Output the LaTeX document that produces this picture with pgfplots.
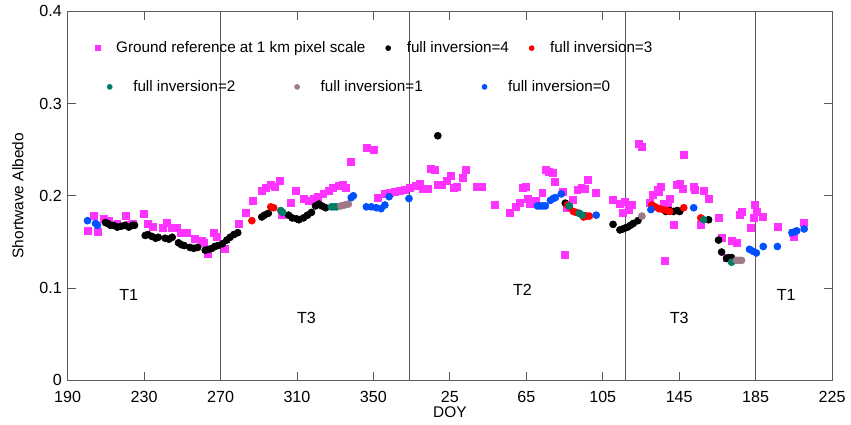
\documentclass[border=0pt]{standalone}
\usepackage{fontspec}
\setmainfont{Liberation Sans}
\usepackage{pgfplots}
\pgfplotsset{compat=1.18}

\definecolor{gmag}{RGB}{255,51,255}
\definecolor{inv3}{RGB}{255,0,0}
\definecolor{inv2}{RGB}{0,125,100}
\definecolor{inv1}{RGB}{160,120,136}
\definecolor{inv0}{RGB}{0,80,255}
\definecolor{frame}{RGB}{90,90,90}

% DOY of the second year is shifted by 365 (25 -> 390 ...)
\pgfplotsset{
  base/.style={
    width=461pt, height=222.6pt, scale only axis,
    xmin=190, xmax=590, ymin=0, ymax=0.4,
    legend image code/.code={
      \path (0pt,0pt) (12pt,0pt);
      \draw[##1] plot coordinates {(5pt,0pt)};
    },
    legend image post style={mark size=1.5pt},
  },
  dot/.style={only marks, mark=*, mark size=2.1pt, mark options={draw=#1, fill=#1}},
  sq/.style={only marks, mark=square*, mark size=2.1pt, mark options={draw=#1, fill=#1}},
}

\begin{document}
\begin{tikzpicture}
\begin{axis}[
  base, name=main,
  xtick={190,230,270,310,350,390,430,470,510,550,590},
  xticklabels={190,230,270,310,350,25,65,105,145,185,225},
  ytick={0,0.1,0.2,0.3,0.4},
  yticklabel style={/pgf/number format/fixed},
  xticklabel style={yshift=-3pt},
  /pgf/number format/assume math mode=true,
  tick align=inside, major tick length=5pt,
  tick style={frame, line width=0.5pt},
  axis line style={frame, line width=0.6pt},
  ticklabel style={font=\fontsize{9.7}{11}\selectfont},
  xlabel={DOY}, ylabel={Shortwave Albedo},
  label style={font=\fontsize{9.3}{11}\selectfont},
  xlabel style={at={(axis description cs:0.5,-0.086)}, anchor=center},
  ylabel style={at={(axis description cs:-0.065,0.5)}, anchor=center},
  legend columns=3,
  legend style={draw=none, fill=none, at={(axis description cs:0.021,0.9)}, anchor=west,
    font=\fontsize{9.2}{11}\selectfont,
    /tikz/every odd column/.append style={column sep=2pt},
    /tikz/every even column/.append style={column sep=6.5pt}},
]
% season boundaries
\addplot[frame, line width=0.6pt, forget plot] coordinates {(270,0) (270,0.4)};
\addplot[frame, line width=0.6pt, forget plot] coordinates {(369,0) (369,0.4)};
\addplot[frame, line width=0.6pt, forget plot] coordinates {(482,0) (482,0.4)};
\addplot[frame, line width=0.6pt, forget plot] coordinates {(550,0) (550,0.4)};

\addplot[sq=gmag] coordinates {
(200.4,0.162) (203.5,0.178) (205.6,0.161) (208.8,0.175) (211.4,0.173) (216,0.170)
(220.2,0.178) (222,0.168) (223.9,0.170) (230,0.180) (232,0.170) (234.8,0.166)
(240,0.165) (242,0.171) (244.7,0.165) (247,0.165) (249,0.160) (252.5,0.160)
(256.7,0.153) (260,0.151) (261.4,0.149) (263.4,0.137) (266.6,0.160) (268,0.155)
(272.5,0.143)
(279.6,0.170) (283.2,0.181) (287,0.194) (291.6,0.205) (293.6,0.209) (296.3,0.212)
(298.3,0.210) (301,0.216) (302,0.179) (306.7,0.192) (309.3,0.205) (313.4,0.197)
(316,0.195) (318.6,0.197) (321,0.199) (323.8,0.202) (326.5,0.205) (329,0.209)
(331.7,0.211) (334,0.212) (335.8,0.209) (338.4,0.237) (346.8,0.252) (350.4,0.250)
(352.5,0.198) (356,0.202) (358.8,0.203) (361.4,0.204) (364,0.205) (366.6,0.206)
(369.2,0.209) (372.3,0.211) (374.4,0.213) (376,0.208) (378.5,0.208) (380,0.229)
(382,0.228) (383.7,0.212) (385.8,0.212) (388.4,0.216) (390.5,0.222) (392,0.209)
(393.6,0.210) (396.8,0.219) (398.3,0.228) (404,0.210) (406.7,0.210) (413.4,0.190)
(421.3,0.181) (424.4,0.188) (426.5,0.192) (428,0.209) (429.6,0.210) (430.6,0.197)
(431.7,0.191) (434.8,0.195) (438.4,0.203) (440,0.228) (442,0.226) (444,0.225)
(444.7,0.215) (448.9,0.204) (450.4,0.136) (451,0.187) (454.6,0.196) (456.7,0.206)
(458.8,0.209) (460.8,0.208) (462.4,0.217) (466.6,0.203) (475.4,0.196) (479,0.191)
(480.6,0.181) (481.7,0.193)
(483.7,0.185) (485.3,0.190) (489,0.256) (490.5,0.253) (494.7,0.192) (496.2,0.201)
(498.9,0.206) (499.4,0.204) (500.4,0.210) (502,0.191) (502.5,0.130) (504,0.190)
(505,0.197) (507.2,0.168) (508.8,0.212) (510.3,0.213) (511.9,0.208) (512.4,0.244)
(517.6,0.210) (518,0.206) (521.3,0.169) (522.8,0.205) (525.4,0.197) (530.6,0.176)
(532.2,0.154) (534.8,0.133) (537.4,0.151) (540,0.149) (541.6,0.179) (542.6,0.183)
(547.3,0.165) (548.9,0.176) (549.4,0.190) (550.4,0.183) (554,0.177) (561.4,0.166)
(569.7,0.160) (570.2,0.155) (575.4,0.171)
};
\addlegendentry{Ground reference at 1 km pixel scale}

\addplot[dot=black] coordinates {
(209.8,0.171) (211,0.170) (212.4,0.168) (214,0.168) (216,0.166) (218,0.167)
(220,0.168) (222,0.166) (224,0.168) (225,0.168) (230.6,0.157) (232,0.158)
(234,0.156) (236,0.154) (237.4,0.155) (241,0.154) (243,0.153) (244.7,0.155)
(248,0.149) (249.5,0.147) (251,0.146) (254,0.144) (256,0.143) (258,0.144)
(262,0.141) (264,0.142) (265.5,0.143) (267,0.145) (268.6,0.146) (271,0.148)
(273.3,0.152) (275,0.155) (277,0.158) (279,0.160)
(291.6,0.177) (293,0.179) (295,0.181) (305.6,0.179) (307.5,0.176) (309.8,0.175)
(311,0.174) (313.4,0.176) (315.5,0.179) (317.6,0.182) (319.7,0.189) (321.5,0.191)
(323,0.189) (325,0.187)
(383.7,0.265) (450.4,0.192) (460.8,0.178) (475.4,0.169) (479,0.163) (480.5,0.164)
(481.7,0.165) (483,0.166) (484.5,0.168) (486,0.170) (488.4,0.173)
(503,0.183) (505,0.184) (507,0.183) (509,0.184) (510.3,0.183) (525.4,0.174)
(530.6,0.152) (532.2,0.139) (534.8,0.132) (536,0.133) (537.4,0.133)
};
\addlegendentry{full inversion=4}

\addplot[dot=inv3] coordinates {
(286.4,0.173) (296.3,0.188) (297.8,0.187) (451.5,0.190) (452.5,0.188) (454.6,0.183)
(456,0.182) (457.7,0.181) (460,0.177) (461.5,0.178) (463,0.178) (495.7,0.190)
(497.5,0.188) (499.5,0.186) (501.5,0.185) (503.5,0.184) (505,0.183) (512.4,0.187)
(521.3,0.176)
};
\addlegendentry{full inversion=3}

\node[font=\fontsize{9.7}{11}\selectfont] at (axis cs:222,0.093) {T1};
\node[font=\fontsize{9.7}{11}\selectfont] at (axis cs:315,0.068) {T3};
\node[font=\fontsize{9.7}{11}\selectfont] at (axis cs:428,0.098) {T2};
\node[font=\fontsize{9.7}{11}\selectfont] at (axis cs:510,0.068) {T3};
\node[font=\fontsize{9.7}{11}\selectfont] at (axis cs:566,0.093) {T1};
\end{axis}

\begin{axis}[
  base, hide axis,
  legend columns=3,
  legend style={draw=none, fill=none, at={(axis description cs:0.0368,0.795)}, anchor=west,
    font=\fontsize{9.2}{11}\selectfont,
    /tikz/every odd column/.append style={column sep=5pt},
    /tikz/every even column/.append style={column sep=30pt}},
]
\addplot[dot=inv2] coordinates {
(301.5,0.184) (302.5,0.182) (328,0.188) (329.3,0.188) (330.6,0.188) (452.5,0.189)
(457.7,0.181) (459.3,0.179) (522.8,0.174) (537.4,0.128)
};
\addlegendentry{full inversion=2}

\addplot[dot=inv1] coordinates {
(333,0.189) (335,0.190) (336.9,0.191) (490.5,0.178) (540,0.130) (541.3,0.130)
(542.6,0.130)
};
\addlegendentry{full inversion=1}

\addplot[dot=inv0] coordinates {
(200.4,0.173) (204.6,0.170) (205.6,0.168) (338.4,0.198) (339.5,0.200) (346.3,0.188)
(348.9,0.188) (351.5,0.187) (354,0.186) (356,0.190) (358.2,0.199) (368.6,0.197)
(435.8,0.189) (437.2,0.189) (438.6,0.189) (440,0.189) (442.6,0.195) (444,0.197)
(445.2,0.198) (448.3,0.202) (466.6,0.179) (495.2,0.185) (517.6,0.187) (546.8,0.142)
(548.5,0.140) (550.4,0.138) (554,0.145) (561.4,0.145) (569,0.160) (570.5,0.161)
(571.5,0.162) (575.4,0.164)
};
\addlegendentry{full inversion=0}
\end{axis}

\path ([shift={(-40.8pt,-26.4pt)}]main.south west) rectangle ([shift={(8.4pt,6pt)}]main.north east);
\end{tikzpicture}
\end{document}
